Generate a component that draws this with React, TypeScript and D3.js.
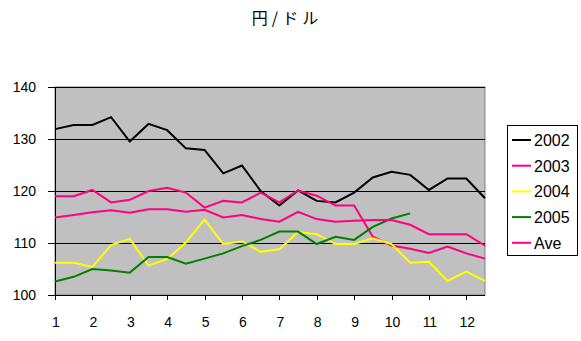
import React from "react";
import * as d3 from "d3";

const title = "円/ドル";
const monthLabels = ["1", "2", "3", "4", "5", "6", "7", "8", "9", "10", "11", "12"];
const yTicks = [100, 110, 120, 130, 140];

const s2002 = [131.9, 132.7, 132.7, 134.2, 129.5, 132.9, 131.7, 128.2, 127.9, 123.4, 124.9, 120.0, 117.2, 120.1, 118.1, 117.8, 119.7, 122.6, 123.7, 123.1, 120.2, 122.4, 122.4, 118.6];
const s2003 = [119.0, 119.0, 120.2, 117.8, 118.3, 120.0, 120.6, 119.7, 116.8, 118.1, 117.8, 119.7, 117.8, 120.1, 119.1, 117.2, 117.2, 111.2, 109.5, 108.9, 108.1, 109.3, 108.0, 107.0];
const s2004 = [106.2, 106.2, 105.4, 109.6, 110.8, 105.7, 106.9, 110.1, 114.5, 109.8, 110.3, 108.3, 108.8, 112.1, 111.7, 109.8, 109.8, 110.9, 109.8, 106.2, 106.4, 102.7, 104.5, 102.7];
const s2005 = [102.6, 103.5, 105.0, 104.7, 104.3, 107.3, 107.3, 106.0, 107.0, 108.0, 109.4, 110.6, 112.2, 112.2, 109.8, 111.2, 110.6, 113.1, 114.7, 115.7];
const sAve = [114.9, 115.4, 115.9, 116.3, 115.8, 116.5, 116.5, 116.0, 116.4, 114.9, 115.4, 114.6, 114.1, 116.0, 114.6, 114.1, 114.3, 114.4, 114.4, 113.5, 111.7, 111.7, 111.7, 109.5];

const seriesNames = ["2002", "2003", "2004", "2005", "Ave"];
const seriesData = [s2002, s2003, s2004, s2005, sAve];
const seriesColors = ["#000000", "#FF0080", "#FFFF00", "#008000", "#FF0080"];

const W = 581;
const H = 341;
const plot = { left: 55, top: 87, right: 485, bottom: 295 };

export default function App() {
  const x = d3.scaleLinear().domain([0, 23]).range([plot.left, plot.right]);
  const y = d3.scaleLinear().domain([100, 140]).range([plot.bottom, plot.top]);
  const line = d3
    .line<number>()
    .x((_, i) => x(i))
    .y((d) => y(d));

  const font = "'Liberation Sans', Arial, sans-serif";

  return (
    <svg
      width={W}
      height={H}
      style={{ position: "absolute", left: 0, top: 0, background: "#fff" }}
    >
      <rect x={0} y={0} width={W} height={H} fill="#fff" />
      <text
        x={287}
        y={24}
        textAnchor="middle"
        fontFamily="'Noto Sans CJK JP', sans-serif"
        fontSize={16}
        letterSpacing={4}
        fill="#000"
      >
        {title}
      </text>
      <rect
        x={plot.left}
        y={plot.top}
        width={plot.right - plot.left}
        height={plot.bottom - plot.top}
        fill="#C0C0C0"
        stroke="#808080"
        strokeWidth={1}
      />
      {yTicks.slice(1).map((t) => (
        <line
          key={"g" + t}
          x1={plot.left}
          x2={plot.right}
          y1={Math.round(y(t)) + 0.5}
          y2={Math.round(y(t)) + 0.5}
          stroke="#000"
          strokeWidth={1}
        />
      ))}
      {/* axes */}
      <line x1={plot.left + 0.5} x2={plot.left + 0.5} y1={plot.top} y2={plot.bottom} stroke="#000" />
      <line x1={plot.left} x2={plot.right} y1={plot.bottom + 0.5} y2={plot.bottom + 0.5} stroke="#000" />
      {yTicks.map((t) => (
        <g key={"y" + t}>
          <line
            x1={plot.left - 7}
            x2={plot.left}
            y1={Math.round(y(t)) + 0.5}
            y2={Math.round(y(t)) + 0.5}
            stroke="#000"
          />
          <text
            x={36}
            y={y(t) + 5}
            textAnchor="end"
            fontFamily={font}
            fontSize={14}
            fill="#000"
          >
            {t}
          </text>
        </g>
      ))}
      {monthLabels.map((m, k) => (
        <g key={"x" + m}>
          <line
            x1={Math.round(x(k * 2)) + 0.5}
            x2={Math.round(x(k * 2)) + 0.5}
            y1={plot.bottom}
            y2={plot.bottom + 5}
            stroke="#000"
          />
          <text
            x={x(k * 2) + 1}
            y={327}
            textAnchor="middle"
            fontFamily={font}
            fontSize={14}
            fill="#000"
          >
            {m}
          </text>
        </g>
      ))}
      {seriesData.map((d, i) => (
        <path
          key={seriesNames[i]}
          d={line(d) || ""}
          fill="none"
          stroke={seriesColors[i]}
          strokeWidth={2}
          strokeLinejoin="miter"
        />
      ))}
      {/* legend */}
      <rect x={507.5} y={125.5} width={70} height={130} fill="#fff" stroke="#000" strokeWidth={1} />
      {seriesNames.map((n, i) => {
        const cy = 140 + i * 25.7;
        return (
          <g key={"l" + n}>
            <line x1={512} x2={531} y1={cy} y2={cy} stroke={seriesColors[i]} strokeWidth={2} />
            <text x={534} y={cy + 6} fontFamily={font} fontSize={16} fill="#000">
              {n}
            </text>
          </g>
        );
      })}
    </svg>
  );
}
